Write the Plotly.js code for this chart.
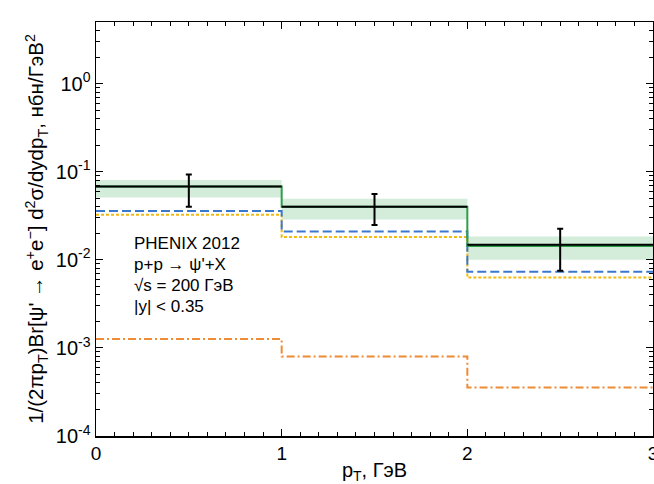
<!DOCTYPE html>
<html>
<head>
<meta charset="utf-8">
<script src="https://cdn.plot.ly/plotly-3.0.1.min.js"></script>
<style>html,body{margin:0;padding:0;background:#fff;}#chart{width:654px;height:484px;}</style>
</head>
<body>
<div id="chart"></div>
<script>
// ---- data ----
const binEdges = [0, 1, 2, 3];
const binCenters = [0.5, 1.5, 2.5];
const dataValues = [0.068, 0.040, 0.0148];
const dataErrHigh = [0.093, 0.0558, 0.0225];
const dataErrLow = [0.040, 0.0248, 0.0075];
const totalTheory = [0.068, 0.040, 0.0143];
const bandUpper = [0.0805, 0.0493, 0.0184];
const bandLower = [0.051, 0.0287, 0.0100];
const blueDashed = [0.0357, 0.0210, 0.0073];
const yellowDotted = [0.0324, 0.0182, 0.0063];
const orangeDashDot = [0.00126, 0.00080, 0.000355];
const yTickVals = [1e-4, 1e-3, 1e-2, 1e-1, 1];
const yTickText = ['10<sup>-4</sup>', '10<sup>-3</sup>', '10<sup>-2</sup>', '10<sup>-1</sup>', '10<sup>0</sup>'];
const xTickVals = [0, 1, 2, 3];
const xTickText = ['0', '1', '2', '3'];
const annotationLines = ['PHENIX 2012', 'p+p → ψ\'+X', '√s = 200 ГэВ', '|y| < 0.35'];

// step helper: values per bin -> hv line points
function stepY(vals) { return vals.concat([vals[vals.length - 1]]); }

// separate horizontal segments for black data histogram
const segX = [], segY = [];
for (let i = 0; i < dataValues.length; i++) {
  segX.push(binEdges[i], binEdges[i + 1], null);
  segY.push(dataValues[i], dataValues[i], null);
}

// minor tick positions for log axis
const yMinor = [];
for (let e = -4; e <= 0; e++) {
  for (let k = 2; k <= 9; k++) yMinor.push(k * Math.pow(10, e));
}

const font = 'Liberation Sans, Arial, Helvetica, sans-serif';

const traces = [
  {x: binEdges, y: stepY(bandLower), mode: 'lines', line: {shape: 'hv', width: 0}, hoverinfo: 'skip', showlegend: false},
  {x: binEdges, y: stepY(bandUpper), mode: 'lines', line: {shape: 'hv', width: 0}, fill: 'tonexty', fillcolor: 'rgba(120,195,140,0.32)', hoverinfo: 'skip', showlegend: false},
  {x: binEdges, y: stepY(orangeDashDot), mode: 'lines', line: {shape: 'hv', color: '#ef8a35', width: 2, dash: '8px,3px,2px,3px'}, showlegend: false},
  {x: binEdges, y: stepY(yellowDotted), mode: 'lines', line: {shape: 'hv', color: '#f2b90f', width: 2, dash: '3px,2px'}, showlegend: false},
  {x: binEdges, y: stepY(blueDashed), mode: 'lines', line: {shape: 'hv', color: '#3a78d0', width: 2, dash: '9px,4px'}, showlegend: false},
  {x: binEdges, y: stepY(totalTheory), mode: 'lines', line: {shape: 'hv', color: '#2e9e48', width: 2}, showlegend: false},
  {x: segX, y: segY, mode: 'lines', line: {color: '#000', width: 2}, connectgaps: false, showlegend: false},
  {x: binCenters, y: dataValues, mode: 'markers', marker: {size: 1, color: '#000'},
   error_y: {type: 'data', symmetric: false,
     array: dataErrHigh.map((h, i) => h - dataValues[i]),
     arrayminus: dataErrLow.map((l, i) => dataValues[i] - l),
     color: '#000', thickness: 2, width: 3}, showlegend: false}
];

// text block: one annotation per line for exact line spacing
const textTopPx = 243, lineStepPx = 21, plotTop = 22, plotH = 414;
const annotations = annotationLines.map((t, i) => ({
  xref: 'paper', yref: 'paper', x: 0.064, y: 1 - (textTopPx + i * lineStepPx - plotTop) / plotH,
  xanchor: 'left', yanchor: 'middle', align: 'left', showarrow: false, text: t,
  font: {family: font, size: 17, color: '#000'}
}));

const layout = {
  width: 654, height: 484,
  margin: {l: 96, r: 1, t: 22, b: 48},
  paper_bgcolor: '#fff', plot_bgcolor: '#fff',
  font: {family: font, size: 18, color: '#000'},
  showlegend: false,
  xaxis: {
    range: [0, 3], tickmode: 'array', tickvals: xTickVals, ticktext: xTickText,
    ticks: 'inside', ticklen: 7, tickwidth: 1, tickcolor: '#000',
    showline: true, linecolor: '#000', linewidth: 1.5, mirror: 'allticks',
    showgrid: false, zeroline: false, automargin: false, ticklabeloverflow: 'allow',
    minor: {dtick: 0.1, ticks: 'inside', ticklen: 4, tickcolor: '#000', showgrid: false},
    tickfont: {size: 19},
    title: {text: 'p<sub>T</sub>, ГэВ', font: {size: 20}, standoff: 0}
  },
  yaxis: {
    type: 'log', range: [-4, Math.log10(5)],
    tickmode: 'array', tickvals: yTickVals, ticktext: yTickText,
    ticks: 'inside', ticklen: 7, tickwidth: 1, tickcolor: '#000',
    showline: true, linecolor: '#000', linewidth: 1.5, mirror: 'allticks',
    showgrid: false, zeroline: false, automargin: false,
    minor: {tickmode: 'array', tickvals: yMinor, ticks: 'inside', ticklen: 4, tickcolor: '#000', showgrid: false},
    tickfont: {size: 20},
    title: {text: '1/(2πp<sub>T</sub>)Br[ψ\' → e<sup>+</sup>e<sup>−</sup>] d<sup>2</sup>σ/dydp<sub>T</sub>, нбн/ГэВ<sup>2</sup>', font: {size: 20.5}, standoff: 6}
  },
  annotations: annotations
};

Plotly.newPlot('chart', traces, layout, {displayModeBar: false, staticPlot: true});
</script>
</body>
</html>
